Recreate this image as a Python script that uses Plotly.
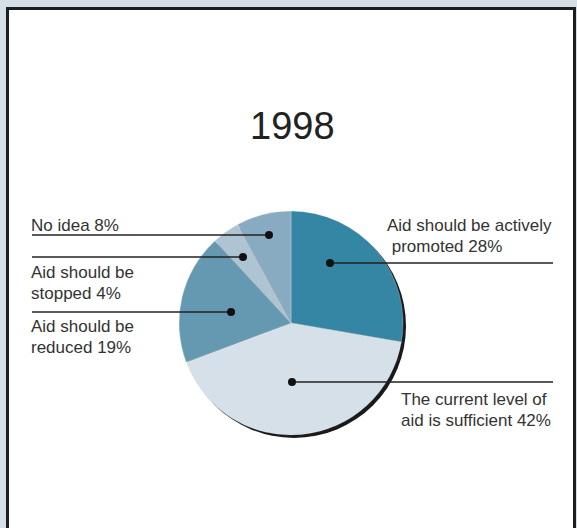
import plotly.graph_objects as go

# ---- data ----
title_text = "1998"
categories = ["Aid should be actively promoted", "The current level of aid is sufficient",
              "Aid should be reduced", "Aid should be stopped", "No idea"]
values = [28, 42, 19, 4, 8]
label_lines = [
    ["Aid should be actively", "\u00a0promoted 28%"],
    ["The current level of", "aid is sufficient 42%"],
    ["Aid should be", "reduced 19%"],
    ["Aid should be", "stopped 4%"],
    ["No idea 8%"],
]
colors = ["#3585a5", "#d5e0e8", "#6599b2", "#afc4d2", "#88abc1"]

# ---- layout/style (pixel positions) ----
W, H = 577, 528
cx, cy, r = 291, 323, 112
# per slice: dot (x,y), line end x, text x, text line y's
leaders = [
    dict(dot=(330, 263), lx=553, tx=385, ty=[225, 246]),
    dict(dot=(292, 382), lx=553, tx=399, ty=[399, 420]),
    dict(dot=(231, 312), lx=32, tx=29, ty=[326, 347]),
    dict(dot=(243, 257), lx=32, tx=29, ty=[272, 293]),
    dict(dot=(269, 235), lx=32, tx=29, ty=[225]),
]
FONT = "Liberation Sans, Arial, sans-serif"
TXT = "#333333"
LINE = "#222222"

fig = go.Figure()
# invisible cartesian frame in pixel units for shapes
fig.add_trace(go.Scatter(x=[0, W], y=[0, H], mode="markers", marker=dict(opacity=0),
                         hoverinfo="skip", showlegend=False))
fig.add_trace(go.Pie(
    labels=categories, values=values, sort=False, direction="clockwise", rotation=0,
    marker=dict(colors=colors, line=dict(color="rgba(255,255,255,0.5)", width=0.5)),
    textinfo="none", hoverinfo="label+percent", showlegend=False,
    domain=dict(x=[(cx - r) / W, (cx + r) / W], y=[1 - (cy + r) / H, 1 - (cy - r) / H]),
))

shapes = [
    dict(type="rect", xref="x", yref="y", x0=7.5, y0=8.5, x1=574.5, y1=H + 10,
         fillcolor="white", line=dict(color="#1e1e1e", width=3), layer="below"),
    dict(type="circle", xref="x", yref="y", x0=cx - r + 3, x1=cx + r + 3, y0=cy - r + 3,
         y1=cy + r + 3, fillcolor="#1a1a1a", line=dict(width=0), layer="below"),
]
annotations = [dict(text=title_text, x=292, y=126, xref="x", yref="y", showarrow=False,
                    xanchor="center", yanchor="middle",
                    font=dict(family=FONT, size=38, color="#222222"))]
for lab, ld in zip(label_lines, leaders):
    dx, dy = ld["dot"]
    shapes.append(dict(type="line", xref="x", yref="y", x0=dx, y0=dy, x1=ld["lx"], y1=dy,
                       line=dict(color=LINE, width=1.5), layer="above"))
    shapes.append(dict(type="circle", xref="x", yref="y", x0=dx - 4, x1=dx + 4, y0=dy - 4,
                       y1=dy + 4, fillcolor="#111111", line=dict(width=0), layer="above"))
    for t, ty in zip(lab, ld["ty"]):
        annotations.append(dict(text=t, x=ld["tx"], y=ty, xref="x", yref="y", showarrow=False,
                                xanchor="left", yanchor="middle",
                                font=dict(family=FONT, size=17, color=TXT)))

fig.update_layout(
    width=W, height=H, margin=dict(l=0, r=0, t=0, b=0),
    paper_bgcolor="#d5dfe7", plot_bgcolor="rgba(0,0,0,0)",
    xaxis=dict(range=[0, W], visible=False, fixedrange=True, domain=[0, 1]),
    yaxis=dict(range=[H, 0], visible=False, fixedrange=True, domain=[0, 1]),
    shapes=shapes, annotations=annotations, showlegend=False,
)
fig.write_html("out.html")
